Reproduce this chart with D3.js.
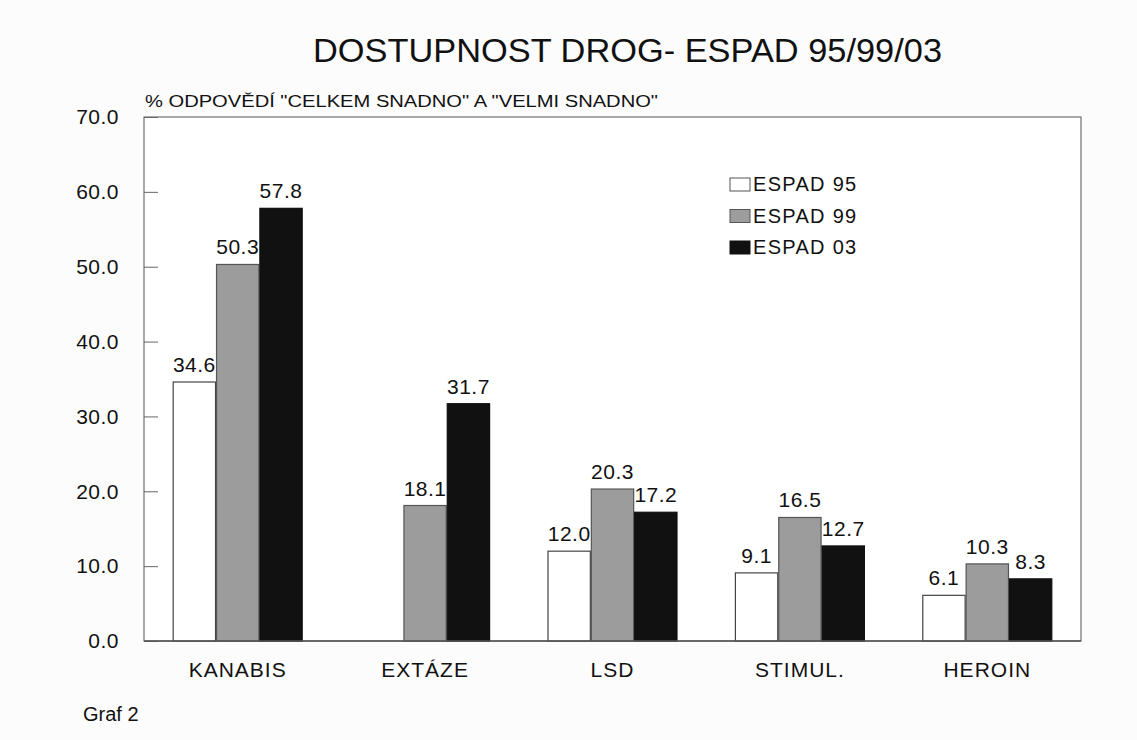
<!DOCTYPE html>
<html>
<head>
<meta charset="utf-8">
<script src="https://cdn.jsdelivr.net/npm/d3@7"></script>
<style>
  body { margin: 0; background: #fcfcfc; }
  svg { font-family: "Liberation Sans", Arial, sans-serif; }
</style>
</head>
<body>
<div id="chart"></div>
<script>
// data
const categories = ['KANABIS', 'EXTÁZE', 'LSD', 'STIMUL.', 'HEROIN']
const seriesNames = ['ESPAD 95', 'ESPAD 99', 'ESPAD 03']
const espad95 = [34.6, null, 12.0, 9.1, 6.1]
const espad99 = [50.3, 18.1, 20.3, 16.5, 10.3]
const espad03 = [57.8, 31.7, 17.2, 12.7, 8.3]
const yTicks = [0, 10, 20, 30, 40, 50, 60, 70]

const seriesValues = [espad95, espad99, espad03]
const fills = ['#ffffff', '#9c9c9c', '#111111']

const width = 1137
const height = 740
const margin = { top: 117, right: 56, bottom: 99, left: 144 }
const innerW = width - margin.left - margin.right
const innerH = height - margin.top - margin.bottom

const svg = d3.select('#chart')
  .append('svg')
  .attr('width', width)
  .attr('height', height)

svg.append('rect')
  .attr('width', width).attr('height', height)
  .attr('fill', '#fcfcfc')

const g = svg.append('g')
  .attr('transform', 'translate(' + margin.left + ',' + margin.top + ')')

const x = d3.scaleBand()
  .domain(categories)
  .range([0, innerW])

const xs = d3.scaleBand()
  .domain(seriesNames)
  .range([x.bandwidth() / 2 - 65, x.bandwidth() / 2 + 65])

const y = d3.scaleLinear()
  .domain([0, 70])
  .range([innerH, 0])

// plot area
g.append('rect')
  .attr('width', innerW).attr('height', innerH)
  .attr('fill', '#ffffff')
  .attr('stroke', '#555')
  .attr('stroke-width', 1)

// y axis
const yAxis = g.append('g')
  .call(d3.axisLeft(y).tickValues(yTicks).tickSize(-14).tickPadding(25).tickFormat(d3.format('.1f')))
yAxis.select('.domain').remove()
yAxis.selectAll('line').attr('stroke', '#666')
yAxis.selectAll('text')
  .attr('font-size', 21)
  .attr('letter-spacing', 0.5)
  .attr('fill', '#111')
  .attr('font-family', '"Liberation Sans", Arial, sans-serif')

// bars
const groups = g.selectAll('g.cat')
  .data(categories)
  .enter().append('g')
  .attr('class', 'cat')
  .attr('transform', d => 'translate(' + x(d) + ',0)')

const cells = groups.selectAll('g.bar')
  .data((d, i) => seriesNames.map((s, j) => ({ s, j, v: seriesValues[j][i] })).filter(e => e.v !== null))
  .enter().append('g')
  .attr('class', 'bar')

cells.append('rect')
  .attr('x', d => xs(d.s) + 0.5)
  .attr('y', d => y(d.v))
  .attr('width', xs.bandwidth() - 1)
  .attr('height', d => innerH - y(d.v))
  .attr('fill', d => fills[d.j])
  .attr('stroke', d => d.j === 0 ? '#444' : (d.j === 1 ? '#555' : '#111'))
  .attr('stroke-width', 1.2)

cells.append('text')
  .attr('x', d => xs(d.s) + xs.bandwidth() / 2)
  .attr('y', d => y(d.v) - 10)
  .attr('text-anchor', 'middle')
  .attr('font-size', 21)
  .attr('letter-spacing', 0.5)
  .attr('fill', '#111')
  .text(d => d.v.toFixed(1))

// baseline
g.append('line')
  .attr('x1', 0).attr('x2', innerW)
  .attr('y1', innerH).attr('y2', innerH)
  .attr('stroke', '#555').attr('stroke-width', 1.5)

// category labels
g.selectAll('text.cat')
  .data(categories)
  .enter().append('text')
  .attr('class', 'cat')
  .attr('x', d => x(d) + x.bandwidth() / 2)
  .attr('y', innerH + 36)
  .attr('text-anchor', 'middle')
  .attr('font-size', 21)
  .attr('letter-spacing', 1)
  .attr('fill', '#111')
  .text(d => d)

// legend
const legend = svg.append('g')
  .attr('transform', 'translate(730,178)')
seriesNames.forEach((s, i) => {
  const row = legend.append('g').attr('transform', 'translate(0,' + (i * 31.5) + ')')
  row.append('rect')
    .attr('width', 20).attr('height', 13)
    .attr('fill', fills[i])
    .attr('stroke', i === 2 ? '#111' : '#555')
  row.append('text')
    .attr('x', 23).attr('y', 13)
    .attr('font-size', 20)
    .attr('letter-spacing', 1.3)
    .attr('fill', '#111')
    .text(s)
})

// titles
svg.append('text')
  .attr('x', 313).attr('y', 62)
  .attr('font-size', 33)
  .attr('textLength', 629)
  .attr('lengthAdjust', 'spacingAndGlyphs')
  .attr('fill', '#111')
  .text('DOSTUPNOST DROG- ESPAD 95/99/03')

svg.append('text')
  .attr('x', 145).attr('y', 107)
  .attr('font-size', 16)
  .attr('textLength', 513)
  .attr('lengthAdjust', 'spacingAndGlyphs')
  .attr('fill', '#111')
  .text('% ODPOVĚDÍ "CELKEM SNADNO" A "VELMI SNADNO"')

svg.append('text')
  .attr('x', 83).attr('y', 721)
  .attr('font-size', 20)
  .attr('fill', '#111')
  .text('Graf 2')
</script>
</body>
</html>
